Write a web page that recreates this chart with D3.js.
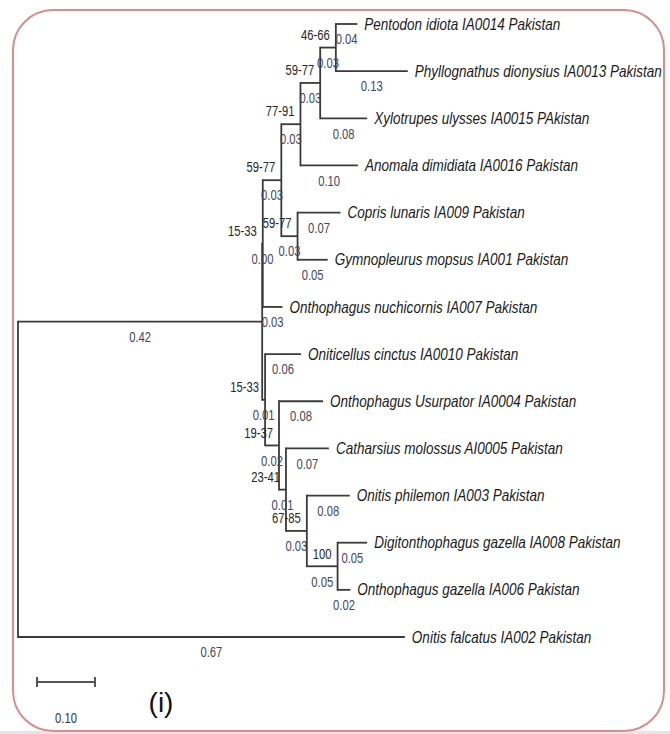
<!DOCTYPE html>
<html lang="en">

<head>
    <meta charset="UTF-8">
    <title>Phylogenetic tree (i)</title>
    <script src="https://d3js.org/d3.v7.min.js"></script>
    <style>
        body,
        html {
            margin: 0;
            padding: 0;
            overflow: hidden;
            background: #fff;
        }

        svg {
            display: block;
        }
    </style>
</head>

<body>
    <script>
        // Tree table: one row per node, rows in drawing order (top to bottom)
        const nodeIds = [
            "root", "n1", "n2", "n3", "n4", "n5", "n6",
            "Pentodon idiota IA0014 Pakistan",
            "Phyllognathus dionysius IA0013 Pakistan",
            "Xylotrupes ulysses IA0015 PAkistan",
            "Anomala dimidiata IA0016 Pakistan",
            "n7",
            "Copris lunaris IA009 Pakistan",
            "Gymnopleurus mopsus IA001 Pakistan",
            "Onthophagus nuchicornis IA007 Pakistan",
            "n8",
            "Oniticellus cinctus IA0010 Pakistan",
            "n9",
            "Onthophagus Usurpator IA0004 Pakistan",
            "n10",
            "Catharsius molossus AI0005 Pakistan",
            "n11",
            "Onitis philemon IA003 Pakistan",
            "n12",
            "Digitonthophagus gazella IA008 Pakistan",
            "Onthophagus gazella IA006 Pakistan",
            "Onitis falcatus IA002 Pakistan"
        ];
        const parentIds = [
            "", "root", "n1", "n2", "n3", "n4", "n5",
            "n6", "n6", "n5", "n4",
            "n3", "n7", "n7",
            "n2",
            "n1", "n8", "n8", "n9", "n9", "n10", "n10", "n11", "n11", "n12", "n12",
            "root"
        ];
        // branch lengths as drawn (estimated), and the rounded values printed on the tree
        const branchLengths = [
            0, 0.421, 0.001, 0.032, 0.033, 0.034, 0.027,
            0.037, 0.124, 0.081, 0.099,
            0.028, 0.074, 0.052,
            0.034,
            0.005, 0.062, 0.024, 0.076, 0.012, 0.074, 0.036, 0.074, 0.053, 0.051, 0.022,
            0.667
        ];
        const lengthLabels = [
            "", "0.42", "0.00", "0.03", "0.03", "0.03", "0.03",
            "0.04", "0.13", "0.08", "0.10",
            "0.03", "0.07", "0.05",
            "0.03",
            "0.01", "0.06", "0.02", "0.08", "0.01", "0.07", "0.03", "0.08", "0.05", "0.05", "0.02",
            "0.67"
        ];
        const bootstrapLabels = [
            "", "", "15-33", "59-77", "77-91", "59-77", "46-66",
            "", "", "", "",
            "59-77", "", "",
            "",
            "15-33", "", "19-37", "", "23-41", "", "67-85", "", "100", "", "",
            ""
        ];
        const scaleBarValue = 0.10;
        const panelLabel = "(i)";

        const width = 670;
        const height = 734;

        const svg = d3.select("body")
            .append("svg")
            .attr("width", width)
            .attr("height", height);

        // grey strip under the frame + rounded pink frame
        svg.append("rect")
            .attr("x", 0).attr("y", 731)
            .attr("width", width).attr("height", 3)
            .attr("fill", "#e6e6e6");
        svg.append("rect")
            .attr("x", 13).attr("y", 10)
            .attr("width", 651).attr("height", 721)
            .attr("rx", 40).attr("ry", 40)
            .attr("fill", "#fff")
            .attr("stroke", "#d98d8d")
            .attr("stroke-width", 2);

        // build hierarchy from the table
        const rows = nodeIds.map((id, i) => ({
            id: id,
            parent: parentIds[i],
            len: branchLengths[i],
            lenLabel: lengthLabels[i],
            boot: bootstrapLabels[i]
        }));
        const root = d3.stratify()
            .id(d => d.id)
            .parentId(d => d.parent || null)(rows);

        const x = d3.scaleLinear().domain([0, 1]).range([18, 598]);
        const leaves = root.leaves();
        const y = d3.scalePoint()
            .domain(leaves.map(d => d.id))
            .range([24, 637]);

        // x from cumulative branch length
        root.eachBefore(n => {
            n.dist = n.parent ? n.parent.dist + n.data.len : 0;
            n.px = x(n.dist);
        });
        // y: leaves evenly spaced, internal nodes halfway between first and last child
        root.eachAfter(n => {
            if (!n.children) n.py = y(n.data.id);
            else n.py = (n.children[0].py + n.children[n.children.length - 1].py) / 2;
        });

        const lineColor = "#3a3a3a";
        const g = svg.append("g");

        // horizontal branches
        g.selectAll("line.h")
            .data(root.descendants().filter(n => n.parent))
            .enter()
            .append("line")
            .attr("class", "h")
            .attr("x1", d => d.parent.px)
            .attr("x2", d => d.px)
            .attr("y1", d => d.py)
            .attr("y2", d => d.py)
            .attr("stroke", lineColor)
            .attr("stroke-width", 1.8);

        // vertical connectors
        g.selectAll("line.v")
            .data(root.descendants().filter(n => n.children))
            .enter()
            .append("line")
            .attr("class", "v")
            .attr("x1", d => d.px)
            .attr("x2", d => d.px)
            .attr("y1", d => d.children[0].py - 0.9)
            .attr("y2", d => d.children[d.children.length - 1].py + 0.9)
            .attr("stroke", lineColor)
            .attr("stroke-width", 1.8);

        // condensed text helper
        function squeeze(sel, sx) {
            return sel.attr("transform", d => `translate(${d.tx},${d.ty}) scale(${sx},1)`);
        }

        // leaf names
        const leafData = leaves.map(n => ({ text: n.data.id, tx: n.px + 7, ty: n.py }));
        squeeze(g.selectAll("text.leaf")
            .data(leafData)
            .enter()
            .append("text")
            .attr("class", "leaf")
            .attr("dy", "0.35em")
            .attr("font-family", "'Liberation Sans', Arial, sans-serif")
            .attr("font-style", "italic")
            .attr("font-size", 16)
            .attr("fill", "#1a1a1a")
            .text(d => d.text), 0.845);

        // branch length labels (below each branch)
        const lenData = root.descendants().filter(n => n.parent).map(n => ({
            text: n.data.lenLabel,
            tx: (n.parent.px + n.px) / 2,
            ty: n.py + 15
        }));
        squeeze(g.selectAll("text.len")
            .data(lenData)
            .enter()
            .append("text")
            .attr("class", "len")
            .attr("dy", "0.35em")
            .attr("text-anchor", "middle")
            .attr("font-family", "'Liberation Sans', Arial, sans-serif")
            .attr("font-size", 15)
            .attr("fill", "#45455c")
            .text(d => d.text), 0.75);

        // bootstrap labels (above-left of node)
        const bootData = root.descendants().filter(n => n.data.boot).map(n => ({
            text: n.data.boot,
            tx: n.px - 6,
            ty: n.py - 13
        }));
        squeeze(g.selectAll("text.boot")
            .data(bootData)
            .enter()
            .append("text")
            .attr("class", "boot")
            .attr("dy", "0.35em")
            .attr("text-anchor", "end")
            .attr("font-family", "'Liberation Sans', Arial, sans-serif")
            .attr("font-size", 15)
            .attr("fill", "#262626")
            .text(d => d.text), 0.75);

        // scale bar
        const barX0 = 37, barY = 682;
        const barX1 = barX0 + (x(scaleBarValue) - x(0));
        const bar = svg.append("g").attr("stroke", "#555").attr("stroke-width", 2);
        bar.append("line").attr("x1", barX0).attr("x2", barX1).attr("y1", barY).attr("y2", barY);
        bar.append("line").attr("x1", barX0).attr("x2", barX0).attr("y1", barY - 5).attr("y2", barY + 5);
        bar.append("line").attr("x1", barX1).attr("x2", barX1).attr("y1", barY - 5).attr("y2", barY + 5);
        squeeze(svg.selectAll("text.bar")
            .data([{ text: scaleBarValue.toFixed(2), tx: (barX0 + barX1) / 2, ty: 718 }])
            .enter()
            .append("text")
            .attr("class", "bar")
            .attr("dy", "0.35em")
            .attr("text-anchor", "middle")
            .attr("font-family", "'Liberation Sans', Arial, sans-serif")
            .attr("font-size", 15)
            .attr("fill", "#333")
            .text(d => d.text), 0.75);

        // panel label
        svg.append("text")
            .attr("x", 161)
            .attr("y", 702)
            .attr("dy", "0.35em")
            .attr("text-anchor", "middle")
            .attr("font-family", "'Liberation Sans', Arial, sans-serif")
            .attr("font-size", 28)
            .attr("fill", "#111")
            .text(panelLabel);
    </script>
</body>

</html>
